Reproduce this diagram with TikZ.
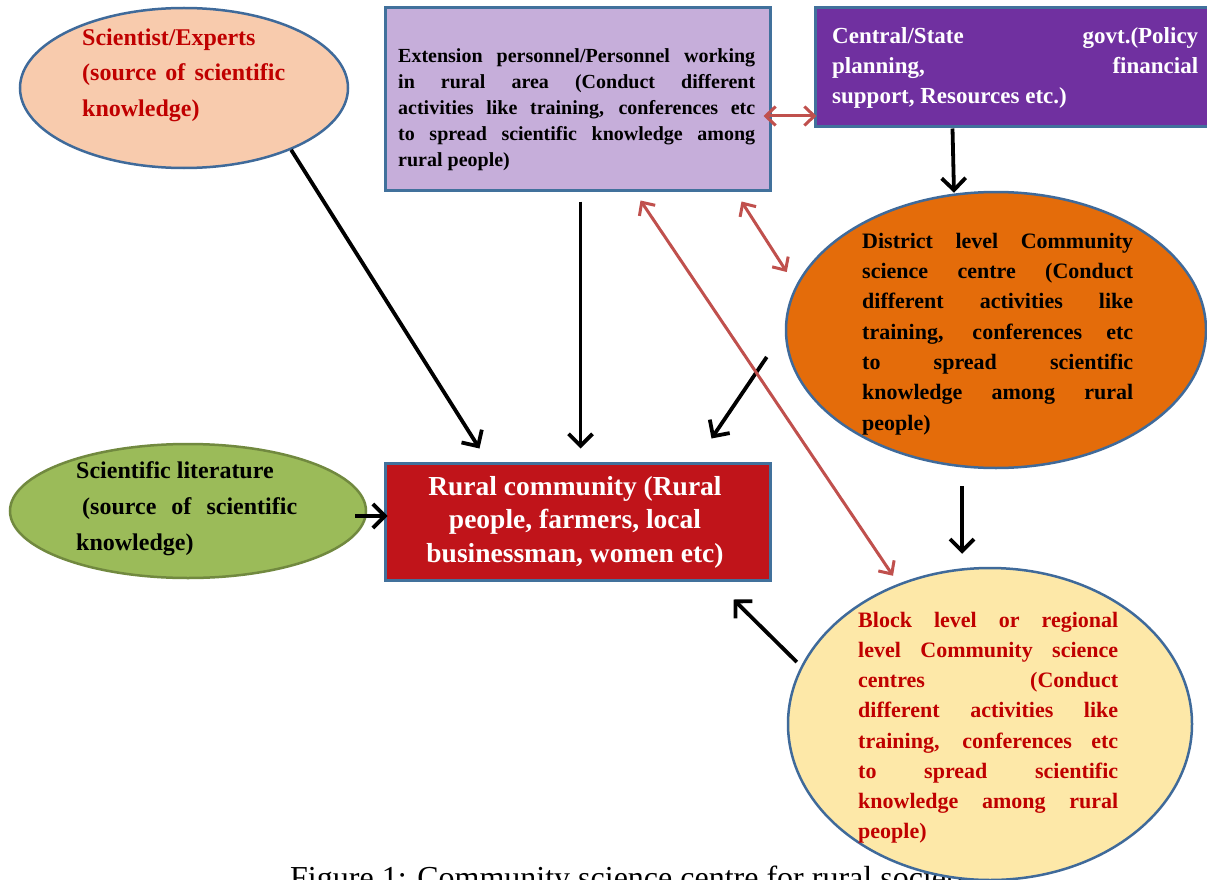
\documentclass[tikz,border=0pt]{standalone}
\usepackage{fontspec}
\setmainfont{Liberation Serif}
\usetikzlibrary{shapes.geometric,arrows.meta,calc}
\definecolor{peach}{HTML}{F8CBAD}
\definecolor{lavender}{HTML}{C6AEDA}
\definecolor{govpurple}{HTML}{7030A0}
\definecolor{distorange}{HTML}{E46C0A}
\definecolor{litgreen}{HTML}{9BBB59}
\definecolor{litborder}{HTML}{71893F}
\definecolor{ruralred}{HTML}{C0141A}
\definecolor{blockyellow}{HTML}{FDE8A8}
\definecolor{ellborder}{HTML}{3F6A9A}
\definecolor{boxborder}{HTML}{41719C}
\definecolor{txtred}{HTML}{C00000}
\definecolor{arrowred}{HTML}{C0504D}
\newcommand\spr[2]{\makebox[#1][s]{#2}}
\newcommand\tp{\rule{0pt}{0.8em}}
\begin{document}
\begin{tikzpicture}[x=1pt,y=-1pt,
  ellbase/.style={ellipse, draw=ellborder, line width=2.5pt, inner sep=0pt},
  boxbase/.style={rectangle, draw=boxborder, line width=3pt, inner sep=0pt},
  txt/.style={inner sep=0pt, anchor=north west, align=left},
  blk/.style={-{Straight Barb[length=12pt,width=24pt]}, line width=3.8pt, black},
  redboth/.style={{Straight Barb[length=10pt,width=19pt]}-{Straight Barb[length=10pt,width=19pt]}, line width=3pt, arrowred}]
\useasboundingbox (0,0) rectangle (1207,880);
\clip (0,0) rectangle (1207,880);
\fill[white] (0,0) rectangle (1207,880);

% caption (cut by the lower edge, as in the original)
\node[inner sep=0pt, anchor=base west, font=\fontsize{32}{38}\selectfont] (cap) at (290,888) {Figure 1: Community science centre for rural society};

% shapes
\node[ellbase, fill=peach, minimum width=328pt, minimum height=160pt] (sci) at (184,88) {};
\node[boxbase, fill=lavender, minimum width=385pt, minimum height=182pt] (ext) at (577.5,99) {};
\node[boxbase, fill=govpurple, minimum width=400pt, minimum height=119pt] (cent) at (1015,67.5) {};
\node[ellbase, fill=distorange, minimum width=420pt, minimum height=276pt] (dist) at (996,330) {};
\node[ellbase, draw=litborder, fill=litgreen, minimum width=356pt, minimum height=134pt] (lit) at (188,511) {};
\node[boxbase, fill=ruralred, minimum width=385pt, minimum height=117pt] (rural) at (577.5,521.5) {};
\node[ellbase, fill=blockyellow, minimum width=404pt, minimum height=312pt] (blk) at (990,724) {};

% texts
\node[txt, text=txtred, font=\bfseries\fontsize{24}{35.5}\selectfont] (scit) at (82,26)
  {\tp Scientist/Experts\\ \spr{203pt}{(source of scientific}\\ knowledge)};
\node[txt, font=\bfseries\fontsize{20}{26}\selectfont] (extt) at (398,46)
  {\tp\spr{357pt}{Extension personnel/Personnel working}\\
   \spr{357pt}{in rural area (Conduct different}\\
   \spr{357pt}{activities like training, conferences etc}\\
   \spr{357pt}{to spread scientific knowledge among}\\
   rural people)};
\node[txt, text=white, font=\bfseries\fontsize{23}{30}\selectfont] (centt) at (832,24.6)
  {\tp\spr{366pt}{Central/State govt.(Policy}\\
   \spr{366pt}{planning, financial}\\
   support, Resources etc.)};
\node[txt, font=\bfseries\fontsize{22}{30.3}\selectfont] (distt) at (862,230.4)
  {\tp\spr{271pt}{District level Community}\\
   \spr{271pt}{science centre (Conduct}\\
   \spr{271pt}{different activities like}\\
   \spr{271pt}{training, conferences etc}\\
   \spr{271pt}{to spread scientific}\\
   \spr{271pt}{knowledge among rural}\\
   people)};
\node[txt, font=\bfseries\fontsize{24}{36}\selectfont] (litt) at (76,458.8)
  {\tp Scientific literature\\
   \hspace*{6pt}\spr{215pt}{(source of scientific}\\
   knowledge)};
\node[inner sep=0pt, anchor=north, align=center, text=white, font=\bfseries\fontsize{27.5}{33.5}\selectfont] (ruralt) at (575,473)
  {\tp Rural community (Rural\\ people, farmers, local\\ businessman, women etc)};
\node[txt, text=txtred, font=\bfseries\fontsize{22}{30.2}\selectfont] (blkt) at (858,609.4)
  {\tp\spr{260pt}{Block level or regional}\\
   \spr{260pt}{level Community science}\\
   \spr{260pt}{centres (Conduct}\\
   \spr{260pt}{different activities like}\\
   \spr{260pt}{training, conferences etc}\\
   \spr{260pt}{to spread scientific}\\
   \spr{260pt}{knowledge among rural}\\
   people)};

% black arrows
\draw[blk] (sci.-30) -- ($(rural.north west)+(96,-13)$);
\draw[blk] ($(ext.south)+(3,10)$) -- ($(rural.north)+(3,-13)$);
\draw[blk] ($(dist.west)+(-18,27)$) -- ($(rural.north east)+(-60,-23)$);
\draw[blk] ($(lit.east)+(-12,5)$) -- ($(rural.west)+(4,-5.5)$);
\draw[blk] ($(cent.south west)+(139,0)$) -- ($(dist.north)+(-42,2)$);
\draw[blk] ($(dist.south)+(-34,17)$) -- ($(blk.north)+(-28,-13)$);
\draw[blk] ($(blk.west)+(10,-62)$) -- ($(rural.south east)+(-38,18)$);

% red double arrows
\draw[redboth] ($(ext.east)+(-8,17)$) -- ($(cent.west)+(3,48.5)$);
\draw[redboth] ($(ext.south east)+(-30,10)$) -- ($(dist.west)+(2,-58)$);
\draw[redboth] ($(ext.south)+(63,9)$) -- ($(blk.north)+(-97,9)$);
\end{tikzpicture}
\end{document}
